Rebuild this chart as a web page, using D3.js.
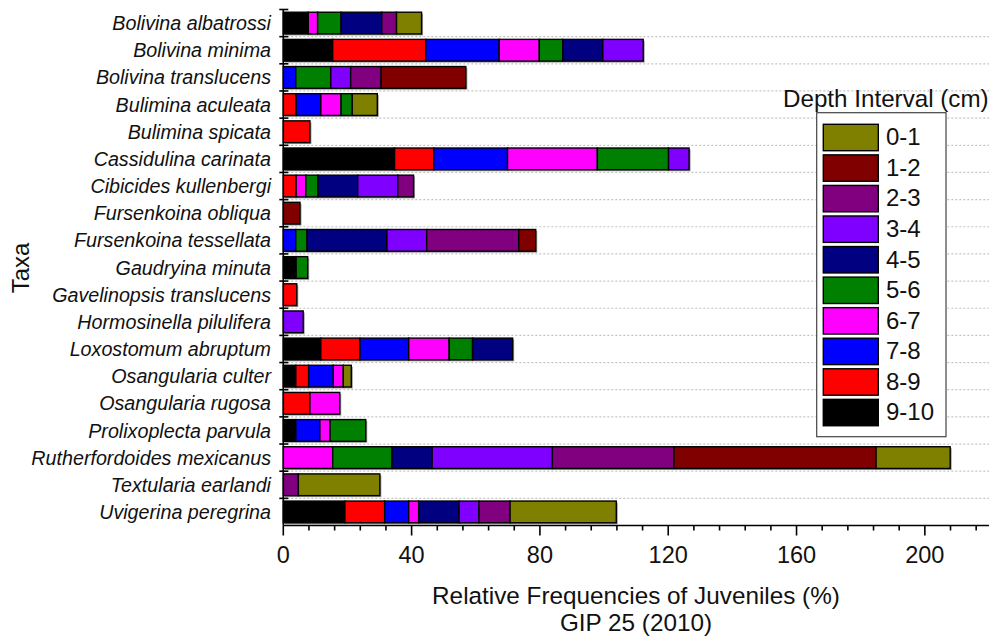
<!DOCTYPE html>
<html><head><meta charset="utf-8">
<script src="https://cdn.jsdelivr.net/npm/d3@7/dist/d3.min.js"></script>
<style>
body{margin:0;background:#fff}
svg{display:block;font-family:"Liberation Sans",Arial,sans-serif}
</style>
</head><body>
<svg id="chart" width="999" height="641"></svg>
<script>
const taxa = ["Bolivina albatrossi","Bolivina minima","Bolivina translucens","Bulimina aculeata","Bulimina spicata","Cassidulina carinata","Cibicides kullenbergi","Fursenkoina obliqua","Fursenkoina tessellata","Gaudryina minuta","Gavelinopsis translucens","Hormosinella pilulifera","Loxostomum abruptum","Osangularia culter","Osangularia rugosa","Prolixoplecta parvula","Rutherfordoides mexicanus","Textularia earlandi","Uvigerina peregrina"];

// stacking order left to right
const depthIntervals = ["9-10","8-9","7-8","6-7","5-6","4-5","3-4","2-3","1-2","0-1"];
const depthColors   = ["#000000","#FF0000","#0000FF","#FF00FF","#008000","#000080","#8000FF","#800080","#800000","#808000"];

const d9_10 = [7.8,15.4,0,0,0,34.7,0,0,0,4.0,0,0,11.7,3.9,0,3.9,0,0,19.2];
const d8_9  = [0,29.0,0,4.0,8.3,12.2,4.0,0,0,0,4.2,0,12.2,4.0,8.3,0,0,0,12.4];
const d7_8  = [0,22.9,3.9,7.7,0,23.0,0,0,3.9,0,0,0,15.2,7.7,0,7.5,0,0,7.5];
const d6_7  = [2.9,12.5,0,6.3,0,28.0,3.0,0,0,0,0,0,12.6,3.1,9.3,3.2,15.4,0,3.1];
const d5_6  = [7.3,7.3,10.9,3.5,0,22.2,3.8,0,3.5,3.6,0,0,7.3,0,0,11.1,18.5,0,0];
const d4_5  = [12.7,12.5,0,0,0,0,12.4,0,24.9,0,0,0,12.5,0,0,0,12.5,0,12.6];
const d3_4  = [0,12.6,6.2,0,0,6.4,12.5,0,12.4,0,0,6.2,0,0,0,0,37.5,0,6.2];
const d2_3  = [4.6,0,9.5,0,0,0,4.9,0,28.7,0,0,0,0,0,0,0,37.9,4.7,9.7];
const d1_2  = [0,0,26.4,0,0,0,0,5.2,5.3,0,0,0,0,0,0,0,63.0,0,0];
const d0_1  = [7.8,0,0,7.8,0,0,0,0,0,0,0,0,0,2.5,0,0,23.1,25.4,33.1];

const xTickLabels = [0,40,80,120,160,200];
const xMinorStep = 8;
const xMax = 220;

const seriesArrays = [d9_10,d8_9,d7_8,d6_7,d5_6,d4_5,d3_4,d2_3,d1_2,d0_1];
const rows = taxa.map((t,i)=>{
  const o = {taxon:t};
  depthIntervals.forEach((k,j)=>{ o[k] = seriesArrays[j][i]; });
  return o;
});

const svg = d3.select("#chart");
const x = d3.scaleLinear().domain([0,xMax]).range([283.3,989]);
const y = d3.scaleBand().domain(taxa).range([9.5,525.5]).paddingInner(0.2).paddingOuter(0.1);
const color = d3.scaleOrdinal().domain(depthIntervals).range(depthColors);
const step = y.step();
const y0 = 9.5, yB = 525.5;

// gridlines at category boundaries
const bounds = d3.range(1, taxa.length).map(i => y0 + i*step);
svg.append("g").selectAll("line").data(bounds).join("line")
  .attr("x1", x(0)).attr("x2", x(xMax))
  .attr("y1", d=>d).attr("y2", d=>d)
  .attr("stroke","#c4c4c4").attr("stroke-width",1.2).attr("stroke-dasharray","2,2");

const stack = d3.stack().keys(depthIntervals);
const stacked = stack(rows);

// shadows
const totals = rows.map(r => d3.sum(depthIntervals, k => r[k]));
svg.append("g").selectAll("rect").data(rows).join("rect")
  .attr("x", x(0)+1.5)
  .attr("y", d=>y(d.taxon)+1.5)
  .attr("width", (d,i)=>x(totals[i])-x(0))
  .attr("height", y.bandwidth())
  .attr("fill","#9a9a9a");

const g = svg.append("g");
stacked.forEach(s=>{
  g.append("g").attr("fill", color(s.key))
   .selectAll("rect").data(s.filter(d=>d[1]-d[0]>0)).join("rect")
   .attr("x", d=>x(d[0]))
   .attr("y", d=>y(d.data.taxon))
   .attr("width", d=>x(d[1])-x(d[0]))
   .attr("height", y.bandwidth())
   .attr("stroke","#000").attr("stroke-width",1.4);
});

// left axis
const ax = svg.append("g");
ax.append("line").attr("x1",x(0)).attr("x2",x(0)).attr("y1",y0).attr("y2",yB)
  .attr("stroke","#000").attr("stroke-width",1.6);
ax.selectAll("line.t").data([y0].concat(bounds)).join("line").attr("class","t")
  .attr("x1",x(0)-4).attr("x2",x(0)+5).attr("y1",d=>d).attr("y2",d=>d)
  .attr("stroke","#000").attr("stroke-width",1.6);
ax.selectAll("text").data(taxa).join("text")
  .attr("x", 271).attr("y", d=>y(d)+y.bandwidth()/2)
  .attr("dy","0.36em").attr("text-anchor","end")
  .attr("font-size","19.7px").attr("font-style","italic").attr("fill","#111")
  .text(d=>d);

// bottom axis
const bx = svg.append("g");
bx.append("line").attr("x1",x(0)).attr("x2",x(xMax)).attr("y1",yB).attr("y2",yB)
  .attr("stroke","#000").attr("stroke-width",1.6);
const minor = d3.range(0, xMax+0.01, xMinorStep);
bx.selectAll("line.m").data(minor).join("line").attr("class","m")
  .attr("x1",d=>x(d)).attr("x2",d=>x(d)).attr("y1",yB)
  .attr("y2",d=> xTickLabels.includes(d) ? yB+10 : yB+5)
  .attr("stroke","#000").attr("stroke-width",1.6);
bx.selectAll("text").data(xTickLabels).join("text")
  .attr("x",d=>x(d)).attr("y",563).attr("text-anchor","middle")
  .attr("font-size","23.5px").attr("fill","#111").text(d=>d);

// axis titles
svg.append("text").attr("x",636).attr("y",604).attr("text-anchor","middle")
  .attr("font-size","24.3px").attr("fill","#111").text("Relative Frequencies of Juveniles (%)");
svg.append("text").attr("x",636).attr("y",631).attr("text-anchor","middle")
  .attr("font-size","24.3px").attr("fill","#111").text("GIP 25 (2010)");
svg.append("text").attr("transform","translate(29,268) rotate(-90)").attr("text-anchor","middle")
  .attr("font-size","24px").attr("fill","#111").text("Taxa");

// legend
const lg = svg.append("g");
lg.append("text").attr("x",783).attr("y",107).attr("font-size","24.2px").attr("fill","#111")
  .text("Depth Interval (cm)");
lg.append("rect").attr("x",816.7).attr("y",112.7).attr("width",129.3).attr("height",324)
  .attr("fill","#fff").attr("stroke","#444").attr("stroke-width",1.2);
const legendOrder = depthIntervals.slice().reverse();
const li = lg.selectAll("g.i").data(legendOrder).join("g").attr("class","i")
  .attr("transform",(d,i)=>`translate(0,${124.3 + i*30.56})`);
li.append("rect").attr("x",823.3).attr("y",0).attr("width",55).attr("height",26.4)
  .attr("fill",d=>color(d)).attr("stroke","#000").attr("stroke-width",1.4);
li.append("text").attr("x",886).attr("y",21).attr("font-size","24px").attr("fill","#111").text(d=>d);
</script>
</body></html>
